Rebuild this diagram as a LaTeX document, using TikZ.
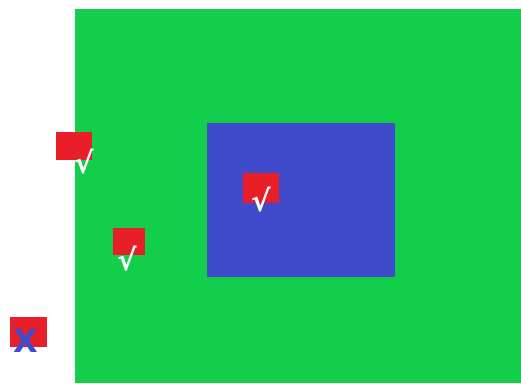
\documentclass[tikz,border=0pt]{standalone}
\usepackage{fontspec}
\newfontfamily\symfont{DejaVu Sans}
\usetikzlibrary{positioning}
\definecolor{fieldgreen}{RGB}{18,206,74}
\definecolor{zoneblue}{RGB}{64,75,204}
\definecolor{markred}{RGB}{232,30,40}

\begin{document}
\begin{tikzpicture}[x=0.75pt, y=-0.75pt,
    tick/.style={white, font=\symfont\bfseries\fontsize{22}{22}\selectfont, inner sep=0pt},
    cross/.style={zoneblue, font=\symfont\bfseries\fontsize{24}{24}\selectfont, inner sep=0pt},
    flag/.style={fill=markred, draw=none}]
    \useasboundingbox (0,0) rectangle (521,383);

    % regions
    \fill[fieldgreen] (75,9) rectangle (521,383);
    \fill[zoneblue] (207,123) rectangle (395,277);

    % red markers
    \fill[flag] (56,132) rectangle (92,160);
    \fill[flag] (113,228) rectangle (145,255);
    \fill[flag] (243,173) rectangle (279,203);
    \fill[flag] (10,317) rectangle (47,347);

    \node[tick] (t1) at (84,162) {√};
    \node[tick] (t2) at (127,259) {√};
    \node[tick] (t3) at (261,200) {√};
    \node[cross] (x1) at (26,341) {X};
\end{tikzpicture}
\end{document}
